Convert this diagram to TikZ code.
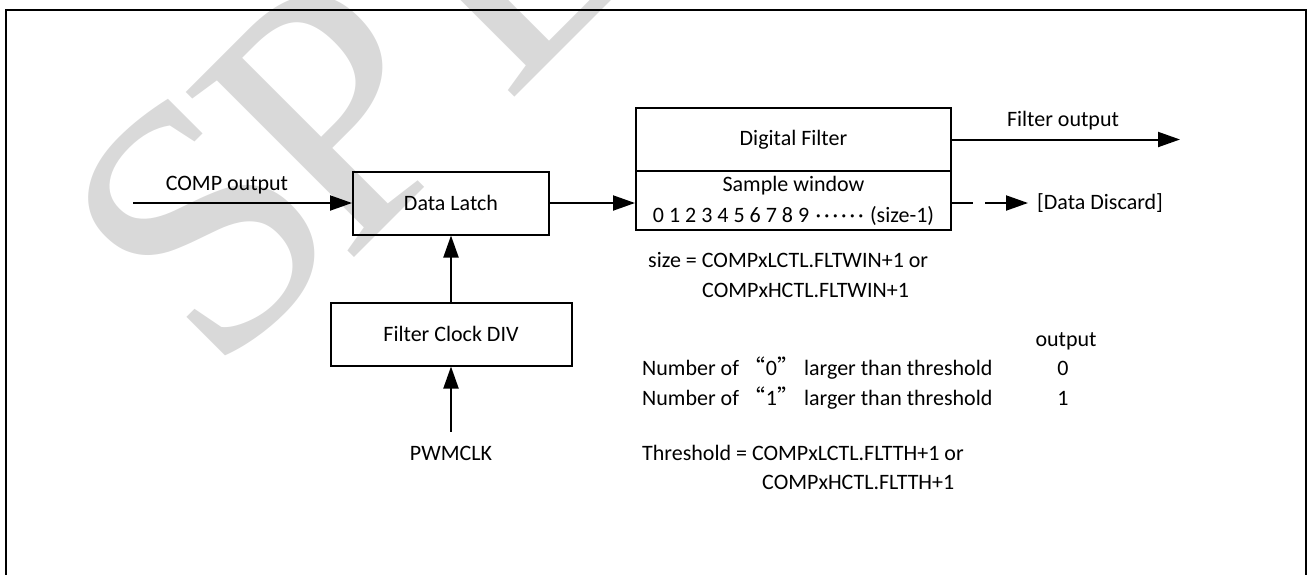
\documentclass[tikz,border=0pt]{standalone}
\usepackage{fontspec}
\setmainfont{Carlito}
\newfontfamily\cjk{Noto Sans CJK SC}
\newfontfamily\wmfont{Liberation Serif}
\usetikzlibrary{positioning,arrows.meta,calc}
\newcommand{\wdots}{\hbox to 51pt{\leaders\hbox to 8.5pt{\hss·\hss}\hfill}}

\begin{document}
\begin{tikzpicture}[x=1pt, y=-1pt,
    blockbox/.style={draw, line width=2pt, minimum height=63pt, inner sep=0pt,
                     font=\fontsize{22}{29}\selectfont, align=center},
    lbl/.style={inner sep=0pt, font=\fontsize{22}{29}\selectfont},
    arr/.style={-{Triangle[length=22pt,width=15pt]}, line width=2pt},
    wmletter/.style={text=black!15, font=\fontsize{360}{360}\wmfont, rotate=45,
                     anchor=base west, inner sep=0pt},
]
\useasboundingbox (0,0) rectangle (1309,574);

% watermark
\begin{scope}
\clip (0,0) rectangle (1309,574);
\node[wmletter] (wmS) at (214,380) {S};
\node[wmletter] (wmP) at (345.5,266.5) {P};
\node[wmletter] (wmL) at (507.5,104.5) {L};
\end{scope}

% frame
\draw[line width=2pt] (6,580) -- (6,10) -- (1306,10) -- (1306,580);

% blocks
\node[blockbox, minimum width=196pt] (latch) at (451,203) {Data Latch};
\node[blockbox, minimum width=241pt, below=66pt of latch] (clkdiv) {Filter Clock DIV};
\node[blockbox, minimum width=315pt] (filt) at (793.5,139.5) {Digital Filter};
\node[blockbox, minimum width=315pt, minimum height=59pt, below=-2pt of filt,
      font=\fontsize{22}{31}\selectfont] (win) {Sample window\\0 1 2 3 4 5 6 7 8 9 \wdots\ (size-1)};

% labels
\node[lbl, anchor=base] (complbl) at (227,190) {COMP output};
\node[lbl, anchor=base, inner ysep=14pt] (pwmclk) at (451,460) {PWMCLK};
\node[lbl, anchor=base] (foutlbl) at (1063,126) {Filter output};
\node[lbl, anchor=west] (discard) at (1037,203) {[Data Discard]};

\coordinate (compin) at (133,203);
\coordinate (fout) at (1180,139.5);
\coordinate (dend) at (1028,203);

% connectors
\draw[arr] (compin) -- (latch.west);
\draw[arr] (latch.east) -- (latch.east -| win.west);
\draw[arr] (clkdiv.north) -- (clkdiv.north |- latch.south);
\draw[arr] (pwmclk.north) -- (pwmclk.north |- clkdiv.south);
\draw[arr] (filt.east) -- (fout);
\draw[arr, dash pattern=on 21pt off 12pt on 100pt] (win.east |- dend) -- (dend);

% notes
\node[lbl, anchor=base west] (size1) at (648,267) {size = COMPxLCTL.FLTWIN+1 or};
\node[lbl, anchor=base west] (size2) at (702,297) {COMPxHCTL.FLTWIN+1};
\node[lbl, anchor=base] (outhd) at (1066,346) {output};
\node[lbl, anchor=base west] (num0) at (642,375) {Number of {\cjk “}0{\cjk ”} larger than threshold};
\node[lbl, anchor=base] (out0) at (1063,375) {0};
\node[lbl, anchor=base west] (num1) at (642,405) {Number of {\cjk “}1{\cjk ”} larger than threshold};
\node[lbl, anchor=base] (out1) at (1063,405) {1};
\node[lbl, anchor=base west] (thr1) at (642,460) {Threshold = COMPxLCTL.FLTTH+1 or};
\node[lbl, anchor=base west] (thr2) at (762,489) {COMPxHCTL.FLTTH+1};
\end{tikzpicture}
\end{document}
